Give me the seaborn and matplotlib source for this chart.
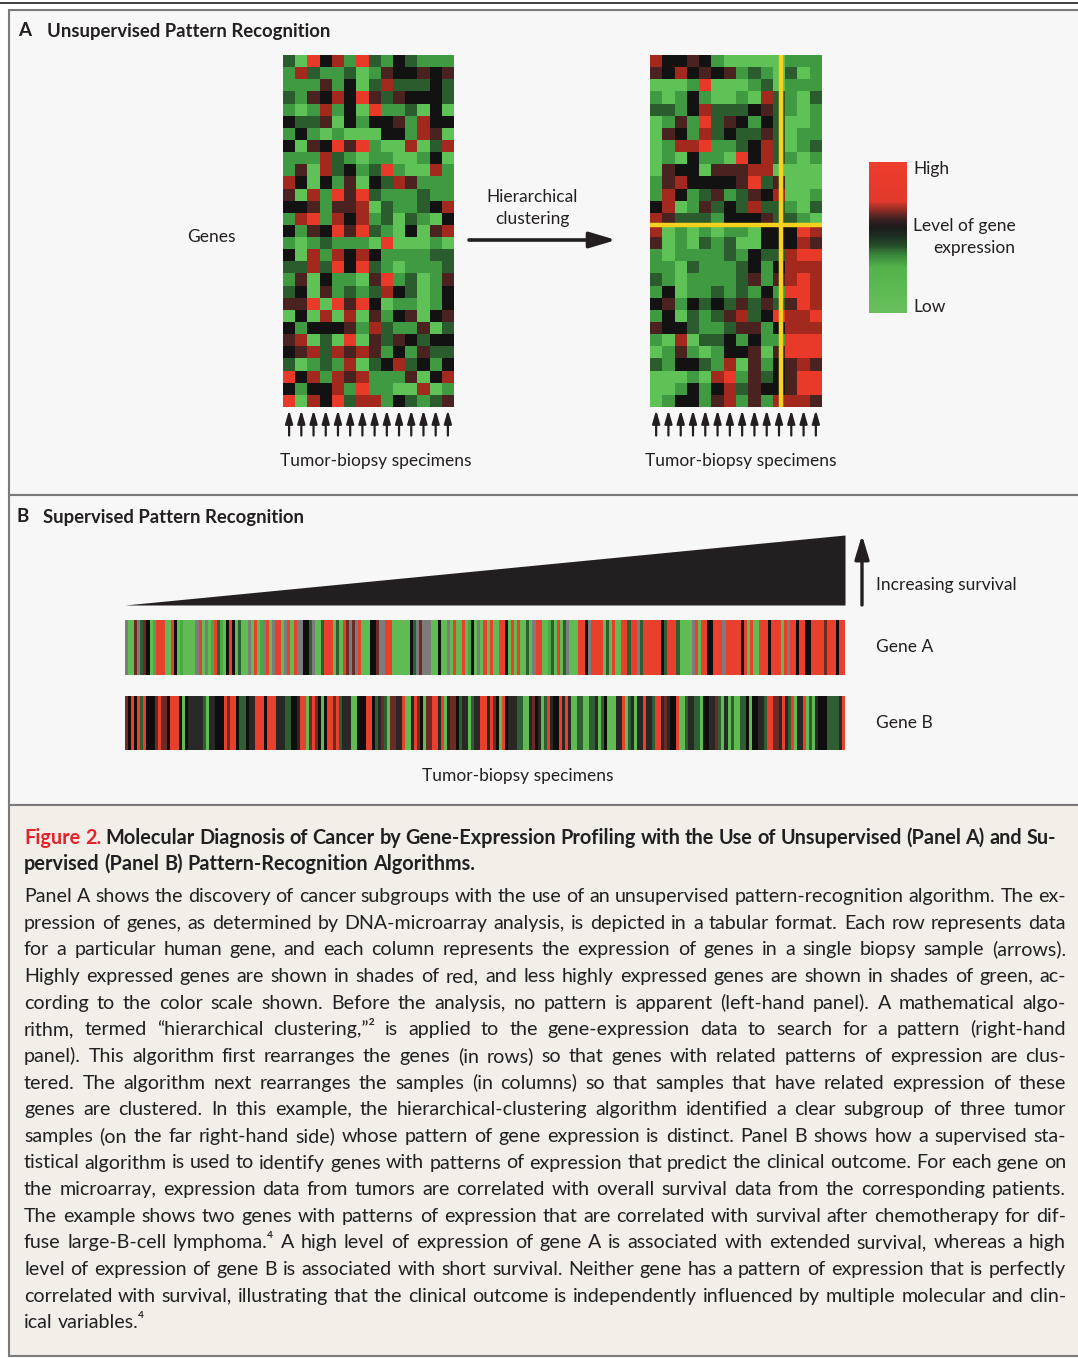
import numpy as np
import matplotlib
matplotlib.use("Agg")
import matplotlib.pyplot as plt
import seaborn as sns
from matplotlib.colors import ListedColormap, LinearSegmentedColormap
from matplotlib.patches import Rectangle
from matplotlib.cm import ScalarMappable

W, H = 1078, 1358

# expression level per cell: 0 bright green .. 3 black .. 6 bright red
UNSORTED = [
    "20635162132111", "15211201433434", "11141302522232", "21435364243332",
    "10151306112030", "32240313341533", "13101000331540", "30436461005025",
    "11152101100130", "14052312610051", "53031403254111", "40516462111211",
    "33414450211235", "15615351202103", "31436462103045", "10121110600010",
    "30515353111122", "22526362101112", "14031104612014", "23041212532013",
    "44606463011013", "03050504134034", "31333415211402", "45020604243233",
    "34525454131422", "20121502352313", "63515451114035", "31335161100501",
    "60536255132124",
]
CLUSTERED = [
    "53343100000111", "43534341210201", "00016000120111", "10131001052102",
    "22135222342101", "01416243132001", "04315232242011", "01556112352012",
    "01031106352101", "04330444550000", "14533334624000", "15312412435001",
    "35014232522102", "54222133342210",
    "50101011033365", "40102120033354", "10111121322566", "11021112313555",
    "21011112414565", "13011212131665", "34132324242465", "13021245236556",
    "43321124413555", "10502231311666", "01410133404666", "21332150413454",
    "00010561423466", "00131352433466", "01331451415554",
]
UPPER_CLUSTER_ROWS = 14
SUBGROUP_SPLIT = 10.65   # yellow divider, in specimen units

# one character per specimen, ordered by survival (panel B)
GENE_A = ("xggmxdmkgGrrrggrkgGggggxrgxgGrdGgkrkgdggxgrgGxrgxrrgxrgrxxkkdxggdrrrgdgrmxmxrgggk"
          "kmxxrrggggggkdxmxxxggkggxgrggrgGkgxgrgrggrrkgrgrggdgxrrggGdgrgdxgggrrkxrrrrgdgrgg"
          "rrdrrxdrrrrrrkdrrrdggggxrgrrkkrrrxrrrrrkrgrggrrrkrrrgrxrrkrrkkrrrrmrrrkrr")
GENE_B = ("mkrkrdrkkkmrmmkrrrkgkKKKKKdgKKkkkrmrrkddkKKrrrkrrrKKKddkkKrrgmrmkgkrrmrdKKKggkkkrr"
          "kdKmdgmmKKrggKrmkgmmrrKrgKmmkdKKgdKKrrKrmkgrkKKKddggKmkKgdrKkkrKrKggddggddKgdkgg"
          "gKKrgdKgKKrKKdrrKmKkkrggdKKddgkkKKmdgKgdggddkgkkKKdrrmmKrKdrgKKrgdgKkkkddddKr")

LEVEL_COLORS = ["#5fc256", "#3f9a42", "#2b5c2e", "#121212", "#4a2320", "#a3291f", "#e93a29"]
STRIPE_COLORS = {"g": "#5fbb52", "G": "#4aa845", "d": "#2e5e31", "K": "#2a2826",
                 "k": "#0e0e0e", "m": "#6e2b24", "r": "#e9402d", "x": "#7c7c7c"}
SCALE_STOPS = [(0.0, "#68c05c"), (0.30, "#52b44a"), (0.38, "#3a8a3c"), (0.45, "#244a28"),
               (0.52, "#1c2a20"), (0.57, "#1e1c1c"), (0.62, "#3a2020"), (0.68, "#8a2c24"),
               (0.74, "#e0392b"), (1.0, "#ee3d2d")]

TITLE_LINES = [
    "Figure 2. Molecular Diagnosis of Cancer by Gene-Expression Profiling with the Use of Unsupervised (Panel A) and Su-",
    "pervised (Panel B) Pattern-Recognition Algorithms.",
]
BODY_LINES = [
    "Panel A shows the discovery of cancer subgroups with the use of an unsupervised pattern-recognition algorithm. The ex-",
    "pression of genes, as determined by DNA-microarray analysis, is depicted in a tabular format. Each row represents data",
    "for a particular human gene, and each column represents the expression of genes in a single biopsy sample (arrows).",
    "Highly expressed genes are shown in shades of red, and less highly expressed genes are shown in shades of green, ac-",
    "cording to the color scale shown. Before the analysis, no pattern is apparent (left-hand panel). A mathematical algo-",
    "rithm, termed \u201chierarchical clustering,\u201d\u00b2 is applied to the gene-expression data to search for a pattern (right-hand",
    "panel). This algorithm first rearranges the genes (in rows) so that genes with related patterns of expression are clus-",
    "tered. The algorithm next rearranges the samples (in columns) so that samples that have related expression of these",
    "genes are clustered. In this example, the hierarchical-clustering algorithm identified a clear subgroup of three tumor",
    "samples (on the far right-hand side) whose pattern of gene expression is distinct. Panel B shows how a supervised sta-",
    "tistical algorithm is used to identify genes with patterns of expression that predict the clinical outcome. For each gene on",
    "the microarray, expression data from tumors are correlated with overall survival data from the corresponding patients.",
    "The example shows two genes with patterns of expression that are correlated with survival after chemotherapy for dif-",
    "fuse large-B-cell lymphoma.\u2074 A high level of expression of gene A is associated with extended survival, whereas a high",
    "level of expression of gene B is associated with short survival. Neither gene has a pattern of expression that is perfectly",
    "correlated with survival, illustrating that the clinical outcome is independently influenced by multiple molecular and clin-",
    "ical variables.\u2074",
]

INK = "#231f20"
FONT = ["Lato", "DejaVu Sans"]

sns.set_theme(style="white")
plt.rcParams["font.family"] = FONT

fig = plt.figure(figsize=(W / 100, H / 100), dpi=100)
bg = fig.add_axes([0, 0, 1, 1])
bg.set_xlim(0, W)
bg.set_ylim(H, 0)
bg.axis("off")


def px_rect(x0, y0, x1, y1):
    return [x0 / W, 1 - y1 / H, (x1 - x0) / W, (y1 - y0) / H]


# frames
bg.plot([0, W], [3, 3], color=INK, lw=1.2)
for y0, y1, face in [(10, 495, "#f7f7f7"), (495, 805, "#f7f7f7"), (805, 1356, "#f3eee8")]:
    bg.add_patch(Rectangle((9, y0), W + 10, y1 - y0, facecolor=face, edgecolor="#7a7a7a", lw=1.5))

# panel headers
bg.text(18, 31, "A", fontsize=13.5, fontweight="bold", color=INK, va="center")
bg.text(47, 31, "Unsupervised Pattern Recognition", fontsize=13.3, fontweight="bold", color=INK, va="center")
bg.text(17, 517, "B", fontsize=13.5, fontweight="bold", color=INK, va="center")
bg.text(43, 517, "Supervised Pattern Recognition", fontsize=13.3, fontweight="bold", color=INK, va="center")

# panel A heatmaps
level_cmap = ListedColormap(LEVEL_COLORS)
arrow_kw = dict(arrowstyle="-|>,head_width=0.2,head_length=0.7", lw=1.6, color=INK,
                mutation_scale=11, shrinkA=0, shrinkB=0)


def draw_matrix(rows, rect):
    mat = np.array([[int(c) for c in r] for r in rows])
    ax = fig.add_axes(px_rect(*rect))
    sns.heatmap(mat, ax=ax, cmap=level_cmap, vmin=-0.5, vmax=6.5, cbar=False,
                xticklabels=False, yticklabels=False)
    n_rows, n_cols = mat.shape
    for i in range(n_cols):
        ax.annotate("", xy=(i + 0.5, n_rows + 0.25), xytext=(i + 0.5, n_rows + 2.35),
                    arrowprops=arrow_kw, annotation_clip=False)
    return ax


draw_matrix(UNSORTED, (283, 55, 454, 407))
ax_r = draw_matrix(CLUSTERED, (650, 55, 822, 407))
ax_r.axhline(UPPER_CLUSTER_ROWS, color="#f6d21f", lw=3.2)
ax_r.axvline(SUBGROUP_SPLIT, color="#f6d21f", lw=3.2)

bg.text(211, 237, "Genes", fontsize=12.5, color=INK, ha="center", va="center")
bg.text(532, 197, "Hierarchical", fontsize=12.5, color=INK, ha="center", va="center")
bg.text(532, 219, "clustering", fontsize=12.5, color=INK, ha="center", va="center")
bg.annotate("", xy=(616, 240), xytext=(469, 240),
            arrowprops=dict(arrowstyle="-|>,head_width=0.24,head_length=0.8", lw=2.6,
                            color=INK, mutation_scale=20, shrinkA=0, shrinkB=0))
for cx in (376, 741):
    bg.text(cx, 461, "Tumor-biopsy specimens", fontsize=12.5, color=INK, ha="center", va="center")

# colour scale
cax = fig.add_axes(px_rect(869, 162, 907, 313))
scale_cmap = LinearSegmentedColormap.from_list("scale", SCALE_STOPS)
cb = fig.colorbar(ScalarMappable(cmap=scale_cmap), cax=cax)
cb.set_ticks([])
cb.outline.set_visible(False)
bg.text(913, 169, "High", fontsize=12.5, color=INK, va="center")
bg.text(913, 226, "Level of gene", fontsize=12.5, color=INK, va="center")
bg.text(1015, 248, "expression", fontsize=12.5, color=INK, va="center", ha="right")
bg.text(913, 307, "Low", fontsize=12.5, color=INK, va="center")

# panel B
codes = list(STRIPE_COLORS)
stripe_cmap = ListedColormap([STRIPE_COLORS[c] for c in codes])

ax_t = fig.add_axes(px_rect(125, 535, 845, 605))
n_spec = len(GENE_A)
ax_t.fill_between([0, n_spec], [0, 0], [0, 1], color=INK, lw=0)
ax_t.set_xlim(0, n_spec)
ax_t.set_ylim(0, 1)
ax_t.axis("off")

for gene, (y0, y1), label in [(GENE_A, (620, 675), "Gene A"), (GENE_B, (696, 750), "Gene B")]:
    ax_g = fig.add_axes(px_rect(125, y0, 845, y1))
    row = np.array([[codes.index(c) for c in gene]])
    sns.heatmap(row, ax=ax_g, cmap=stripe_cmap, vmin=-0.5, vmax=len(codes) - 0.5,
                cbar=False, xticklabels=False, yticklabels=False)
    bg.text(876, (y0 + y1) / 2, label, fontsize=12.5, color=INK, va="center")

bg.annotate("", xy=(862, 535), xytext=(862, 605),
            arrowprops=dict(arrowstyle="-|>,head_width=0.24,head_length=0.8", lw=2.4,
                            color=INK, mutation_scale=18, shrinkA=0, shrinkB=0))
bg.text(876, 585, "Increasing survival", fontsize=12.5, color=INK, va="center")
bg.text(518, 776, "Tumor-biopsy specimens", fontsize=12.5, color=INK, ha="center", va="center")

# caption, justified word by word on a common baseline
renderer = fig.canvas.get_renderer()


def text_width(s, **kw):
    t = bg.text(0, 0, s, **kw)
    w = t.get_window_extent(renderer).width
    t.remove()
    return w


def set_line(words, x0, x1, y, justify, **kw):
    texts = [bg.text(0, y, w, color=col, va="baseline", **kw) for w, col in words]
    widths = [t.get_window_extent(renderer).width for t in texts]
    gap = text_width("a a", **kw) - text_width("aa", **kw)
    if justify and len(texts) > 1:
        gap = (x1 - x0 - sum(widths)) / (len(texts) - 1)
    x = x0
    for t, w in zip(texts, widths):
        t.set_x(x)
        x += w + gap


base = 12.0
body_size = base * min((1066 - 24) / text_width(l, fontsize=base) for l in BODY_LINES[:-1])
title_size = base * (1056 - 24) / text_width(TITLE_LINES[0], fontsize=base, fontweight="bold")

for i, line in enumerate(TITLE_LINES):
    words = [(w, "#e3232c" if (i == 0 and j < 2) else INK) for j, w in enumerate(line.split(" "))]
    set_line(words, 24, 1056, 844 + 26 * i, i == 0, fontsize=title_size, fontweight="bold")

for i, line in enumerate(BODY_LINES):
    words = [(w, INK) for w in line.split(" ")]
    set_line(words, 24, 1066, 902 + 26.65 * i, i < len(BODY_LINES) - 1, fontsize=body_size)

fig.savefig("out.png", dpi=100)
